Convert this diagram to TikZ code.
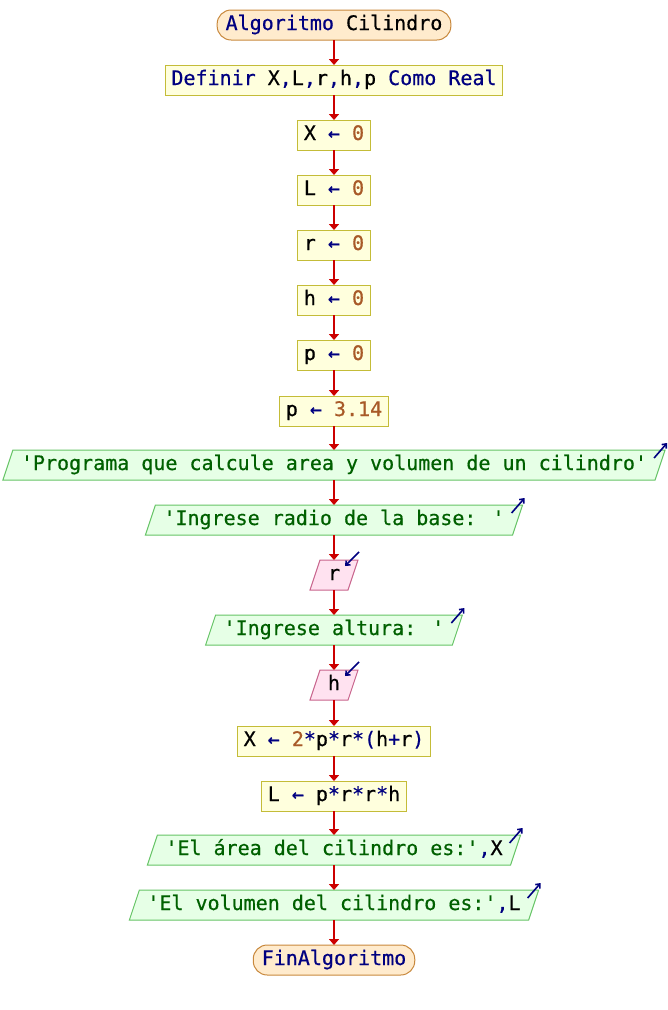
\documentclass[tikz,border=0pt]{standalone}
\usepackage{fontspec}
\newfontfamily\codefont[FakeBold=0.6]{DejaVu Sans Mono}
\usetikzlibrary{arrows.meta}
\pgfdeclarelayer{background}
\pgfsetlayers{background,main}
\definecolor{kwc}{HTML}{000080}
\definecolor{numc}{HTML}{A85A28}
\definecolor{strc}{HTML}{006000}
\definecolor{flowred}{HTML}{CC0000}
\definecolor{termfill}{HTML}{FFEBCD}
\definecolor{termdraw}{HTML}{C8883C}
\definecolor{procfill}{HTML}{FFFFDD}
\definecolor{procdraw}{HTML}{C4BC38}
\definecolor{outfill}{HTML}{E6FFE6}
\definecolor{outdraw}{HTML}{66C466}
\definecolor{infill}{HTML}{FFE2F0}
\definecolor{indraw}{HTML}{C8648C}
\newcommand\kw[1]{\textcolor{kwc}{#1}}
\newcommand\nm[1]{\textcolor{numc}{#1}}
\newcommand\q{\textquotesingle}
\newcommand\asg{\textcolor{kwc}{\makebox[12.04pt]{←}}}
\tikzset{
  base/.style={font=\codefont\fontsize{20pt}{24pt}\selectfont, text height=15pt, text depth=5pt,
    inner ysep=5pt, minimum height=30pt, outer sep=0pt, line width=1pt},
  terminal/.style={base, rectangle, rounded corners=14pt, fill=termfill, draw=termdraw, inner xsep=8.5pt, text=kwc},
  proc/.style={base, rectangle, fill=procfill, draw=procdraw, inner xsep=6pt},
  outp/.style={base, rectangle, inner xsep=13pt, text=strc},
  inp/.style={base, rectangle, inner xsep=13pt},
  outshape/.style={fill=outfill, draw=outdraw, line width=1pt},
  inshape/.style={fill=infill, draw=indraw, line width=1pt},
  flow/.style={draw=flowred, line width=2.2pt, -{Triangle[length=6pt,width=10pt]}},
  icon/.style={draw=kwc, line width=1.6pt, -{Straight Barb[length=3.5pt,width=6pt]}}
}
\begin{document}
\begin{tikzpicture}[x=1pt,y=-1pt]
\useasboundingbox (0,0) rectangle (668,1010);
\node[terminal] (s) at (334,25) {\kw{Algoritmo} \textcolor{black}{Cilindro}};
\node[proc] (d) at (334,80) {\kw{Definir} X\kw{,}L\kw{,}r\kw{,}h\kw{,}p \kw{Como} \kw{Real}};
\node[proc] (x0) at (334,135) {X \asg{} \nm{0}};
\node[proc] (l0) at (334,190) {L \asg{} \nm{0}};
\node[proc] (r0) at (334,245) {r \asg{} \nm{0}};
\node[proc] (h0) at (334,300) {h \asg{} \nm{0}};
\node[proc] (p0) at (334,355) {p \asg{} \nm{0}};
\node[proc] (p1) at (334,411) {p \asg{} \nm{3.14}};
\node[outp] (o1) at (334,465) {\q Programa que calcule area y volumen de un cilindro\q};
\node[outp] (o2) at (334,520) {\q Ingrese radio de la base: \q};
\node[inp] (i1) at (334,575) {r};
\node[outp] (o3) at (334,630) {\q Ingrese altura: \q};
\node[inp] (i2) at (334,685) {h};
\node[proc] (x1) at (334,741) {X \asg{} \nm{2}\kw{*}p\kw{*}r\kw{*}\kw{(}h\kw{+}r\kw{)}};
\node[proc] (l1) at (334,796) {L \asg{} p\kw{*}r\kw{*}r\kw{*}h};
\node[outp] (o4) at (334,850) {\q El área del cilindro es:\q\kw{,}\textcolor{black}{X}};
\node[outp] (o5) at (334,905) {\q El volumen del cilindro es:\q\kw{,}\textcolor{black}{L}};
\node[terminal] (e) at (334,960) {FinAlgoritmo};
\begin{pgfonlayer}{background}
\foreach \n in {o1,o2,o3,o4,o5}
  \path[outshape] ([xshift=-5pt]\n.south west) -- ([xshift=-5pt]\n.south east)
    -- ([xshift=5pt]\n.north east) -- ([xshift=5pt]\n.north west) -- cycle;
\foreach \n in {i1,i2}
  \path[inshape] ([xshift=-5pt]\n.south west) -- ([xshift=-5pt]\n.south east)
    -- ([xshift=5pt]\n.north east) -- ([xshift=5pt]\n.north west) -- cycle;
\end{pgfonlayer}
\foreach \n in {o1,o2,o3,o4,o5}
  \draw[icon] ([shift={(-6pt,-8pt)}]\n.north east) -- ([shift={(7pt,7pt)}]\n.north east);
\foreach \n in {i1,i2}
  \draw[icon] ([shift={(6pt,8pt)}]\n.north east) -- ([shift={(-8pt,-6pt)}]\n.north east);
\foreach \a/\b in {s/d,d/x0,x0/l0,l0/r0,r0/h0,h0/p0,p0/p1,p1/o1,o1/o2,o2/i1,i1/o3,o3/i2,i2/x1,x1/l1,l1/o4,o4/o5,o5/e}
  \draw[flow] (\a) -- (\b);
\end{tikzpicture}
\end{document}
